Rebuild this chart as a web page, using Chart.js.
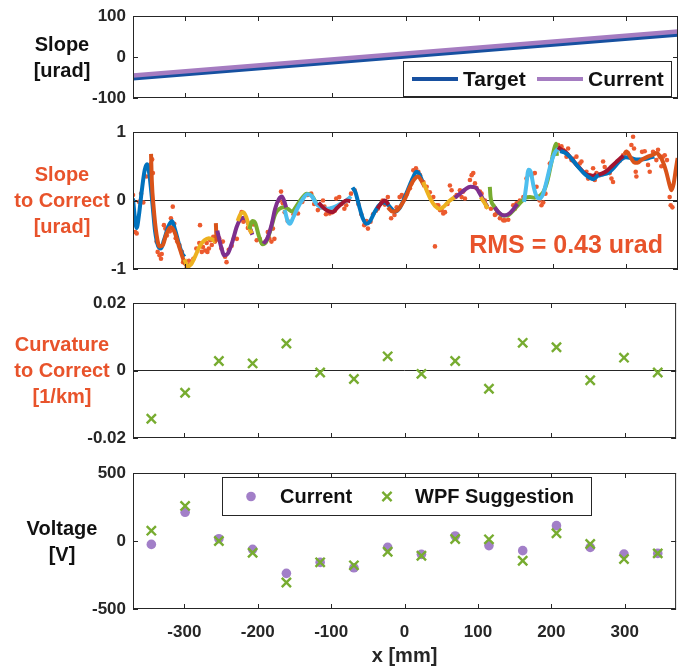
<!DOCTYPE html>
<html>
<head>
<meta charset="utf-8">
<script src="https://cdn.jsdelivr.net/npm/chart.js@4.4.0/dist/chart.umd.min.js"></script>
<style>
  html, body { margin: 0; padding: 0; background: #fff; }
  #wrap { position: relative; width: 685px; height: 666px; }
  #wrap canvas { position: absolute; left: 0; }
</style>
</head>
<body>
<div id="wrap">
  <canvas id="slopeChart" width="685" height="110" style="top:0px"></canvas>
  <canvas id="residChart" width="685" height="170" style="top:110px"></canvas>
  <canvas id="curvChart" width="685" height="170" style="top:280px"></canvas>
  <canvas id="voltChart" width="685" height="216" style="top:450px"></canvas>
</div>
<script>
// ---- data ----
const xTicks = [-300, -200, -100, 0, 100, 200, 300];
const slopeTicks = [-100, 0, 100];
const residTicks = [-1, 0, 1];
const curvTicks = [-0.02, 0, 0.02];
const voltTicks = [-500, 0, 500];

// actuator positions [mm]
const actuatorX = [-345, -299, -253, -207, -161, -115, -69, -23, 23, 69, 115, 161, 207, 253, 299, 345];
const curvatureToCorrect = [-0.0143, -0.0066, 0.0028, 0.0021, 0.0080, -0.0006, -0.0025, 0.0042,
  -0.0010, 0.0028, -0.0054, 0.0082, 0.0069, -0.0029, 0.0038, -0.0006];
const voltageCurrent = [-25, 211, 17, -61, -238, -157, -197, -47, -98, 37, -34, -71, 113, -47, -96, -91];
const voltageWPF = [76, 258, 0, -86, -305, -157, -179, -79, -108, 15, 12, -145, 57, -22, -133, -91];

// slope [urad]
const targetSlope = [[-370, -52], [370, 55]];
const currentSlope = [[-370, -45], [370, 62]];

// measured slope residual [urad]
const slopeMeas = [
  [-370, 0.08], [-367, -0.46], [-365, -0.48], [-362, -0.02], [-359, 0.1], [-356, -0.03], [-352, 0.35],
  [-349, 0.49], [-346, 0.53], [-344, 0.6], [-343, 0.4], [-338, -0.6], [-336.5, -0.75], [-334, -0.8],
  [-332, -0.85], [-331, -0.78], [-328, -0.36], [-326, -0.41], [-324, -0.51], [-320, -0.45],
  [-318.5, -0.26], [-316, -0.09], [-314, -0.34], [-312, -0.55], [-310, -0.6], [-307, -0.65],
  [-303.6, -0.75], [-302, -0.9], [-299, -0.92], [-297, -0.98], [-294, -0.88], [-288, -0.85],
  [-284, -0.7], [-280, -0.62], [-279, -0.36], [-276.6, -0.75], [-275, -0.68], [-272, -0.73],
  [-270, -0.62], [-269, -0.75], [-267, -0.7], [-265, -0.58], [-263, -0.65], [-261, -0.53],
  [-258.6, -0.6], [-253, -0.55], [-250, -0.7], [-248, -0.6], [-245, -0.82], [-243, -0.9],
  [-240, -0.72], [-236, -0.66], [-233, -0.55], [-229, -0.56], [-225, -0.29], [-222.5, -0.17],
  [-220, -0.31], [-214, -0.4], [-210, -0.45], [-206, -0.35], [-202, -0.58], [-198, -0.56],
  [-195, -0.62], [-190, -0.6], [-187, -0.46], [-185, -0.55], [-182, -0.6], [-180, -0.41],
  [-178, -0.56], [-171, 0.0], [-169, 0.13], [-166.5, -0.04], [-164, -0.17], [-160, -0.3],
  [-152, -0.2], [-146, -0.19], [-140, -0.02], [-133, 0.08], [-128, 0.1], [-124, -0.05],
  [-119, -0.14], [-115, -0.1], [-112, 0.0], [-110, -0.09], [-108, -0.2], [-105, -0.14],
  [-103, -0.19], [-101, -0.12], [-99, -0.17], [-96, -0.15], [-94, 0.03], [-90, 0.05],
  [-87, -0.05], [-83, -0.12], [-80.5, -0.07], [-77, 0.02], [-74, 0.1], [-69, 0.15],
  [-64, -0.05], [-60, -0.2], [-56, -0.36], [-53, -0.3], [-51, -0.41], [-47.5, -0.31],
  [-44, -0.2], [-40, -0.15], [-37.6, -0.12], [-33, -0.04], [-31, 0.0], [-28, -0.06],
  [-24, 0.05], [-19.5, -0.26], [-15, -0.21], [-12, -0.1], [-8, 0.05], [-5, 0.08],
  [-3, 0.05], [2, 0.1], [6, 0.18], [8, 0.25], [10.6, 0.44], [14.2, 0.47], [17.4, 0.42],
  [19.7, 0.37], [24.2, 0.27], [28.7, 0.2], [33, 0.12], [37.7, 0.05], [40, -0.67],
  [42.3, -0.07], [44.5, -0.07], [46.8, -0.14], [49, -0.14], [51.3, -0.19], [53.6, -0.17],
  [57, -0.05], [60.3, 0.22], [62.6, 0.15], [67.1, 0.05], [69.4, 0.08], [73.9, 0.15],
  [76.2, 0.05], [78.4, 0.13], [80.7, 0.03], [87.5, 0.3], [89.8, 0.37], [92, 0.4],
  [94.3, 0.25], [96.5, 0.18], [101, 0.13], [103.3, 0.1], [107.8, 0.0], [110, -0.09],
  [116, -0.12], [121.4, -0.21], [123.7, -0.19], [128.2, -0.26], [132.7, -0.29], [135, -0.29],
  [139.5, -0.28], [146.3, -0.07], [148.5, -0.12], [150.8, -0.04], [153, -0.04], [155.3, 0.0],
  [160, 0.05], [164.3, 0.32], [171, 0.37], [175.6, 0.4], [177.9, 0.2], [182, 0.0],
  [184.6, -0.07], [187, -0.03], [190, 0.1], [196, 0.54], [200.5, 0.66], [207.3, 0.81],
  [211.8, 0.79], [214, 0.74], [216.3, 0.72], [218.6, 0.64], [220.8, 0.76], [225.4, 0.59],
  [227.6, 0.61], [232.1, 0.64], [236.7, 0.54], [238.9, 0.57], [245.7, 0.42], [248, 0.32],
  [250.2, 0.37], [252.5, 0.35], [254.7, 0.47], [257, 0.3], [259.3, 0.4], [263.8, 0.37],
  [268.3, 0.57], [270.5, 0.49], [272.8, 0.42], [277.3, 0.4], [279.6, 0.32], [281.8, 0.27],
  [290.9, 0.58], [295.4, 0.66], [300, 0.71], [302.2, 0.69], [306.7, 0.81], [309, 0.93],
  [310.3, 0.76], [312.6, 0.42], [313.5, 0.35], [318, 0.59], [321.2, 0.71], [324.8, 0.72],
  [329.3, 0.52], [331.6, 0.42], [336.1, 0.71], [338.4, 0.69], [340.6, 0.59], [342.9, 0.74],
  [345.2, 0.64], [347.4, 0.5], [349.7, 0.64], [352, 0.66], [355, 0.59], [358.7, 0.05],
  [360.1, -0.07], [362.4, -0.1]
];

// local fits per actuator window
const fitBlue1 = [[-370, 0.03], [-367, -0.3], [-365, -0.4], [-362, -0.22], [-358, 0.15], [-354, 0.45],
  [-351, 0.53], [-348, 0.4], [-344, 0.0], [-340, -0.45], [-336, -0.66], [-332, -0.7], [-328, -0.58],
  [-322, -0.38], [-317, -0.3], [-313, -0.42], [-308, -0.62], [-303, -0.78], [-300, -0.82]];
const fitOrange1 = [[-345.5, 0.68], [-344.5, 0.3], [-342, -0.1], [-338, -0.5], [-334, -0.67], [-330, -0.66],
  [-325, -0.5], [-319, -0.39], [-314, -0.45], [-308, -0.65], [-302, -0.85], [-297, -0.95], [-293, -0.94]];
const fitYellow1 = [[-300, -0.86], [-296, -0.96], [-291, -0.93], [-285, -0.8], [-279, -0.66], [-273, -0.58],
  [-267, -0.55], [-262, -0.57], [-258, -0.61]];
const fitOrange2 = [[-257.5, -0.33], [-256.5, -0.6]];
const fitPurple1 = [[-255.5, -0.44], [-251, -0.65], [-246, -0.8], [-241, -0.77], [-235, -0.6], [-229, -0.38],
  [-223, -0.26], [-218, -0.25], [-213, -0.35], [-208, -0.5]];
const fitYellow2 = [[-228, -0.3], [-224, -0.2], [-220, -0.17], [-216, -0.25], [-212, -0.4], [-209, -0.48]];
const fitGreen1 = [[-212, -0.42], [-208, -0.3], [-204, -0.33], [-199, -0.52], [-194, -0.64], [-189, -0.6],
  [-183, -0.42], [-177, -0.2], [-171, -0.12], [-165, -0.1], [-160, -0.12], [-154, -0.16], [-148, -0.08],
  [-141, 0.03], [-134, 0.1], [-127, 0.07], [-121, -0.05]];
const fitPurple2 = [[-193, -0.63], [-188, -0.56], [-182, -0.36], [-177, -0.12], [-172, 0.02], [-168, 0.06],
  [-165, 0.0], [-162, -0.1]];
const fitCyan1 = [[-164, -0.14], [-160, -0.3], [-157, -0.34], [-153, -0.26], [-147, -0.12], [-140, 0.01],
  [-133, 0.09], [-127, 0.06], [-121, -0.05], [-114, -0.1], [-106, -0.12], [-98, -0.1], [-90, -0.06],
  [-83, -0.02], [-78, 0.02], [-74, 0.06]];
const fitRed1 = [[-118, -0.03], [-112, -0.1], [-106, -0.15], [-99, -0.17], [-93, -0.11], [-86, -0.04],
  [-80, 0.0], [-75, -0.01]];
const fitBlue2 = [[-72, 0.19], [-68, 0.12], [-63, -0.08], [-58, -0.26], [-53, -0.34], [-48, -0.3],
  [-42, -0.17], [-36, -0.07], [-30, -0.03], [-25, -0.05], [-19, -0.12], [-14, -0.16], [-8, -0.11],
  [-2, 0.02], [4, 0.18], [10, 0.33], [15, 0.42], [19, 0.38], [23, 0.28]];
const fitRed2 = [[-38, -0.12], [-33, -0.04], [-28, 0.0], [-23, -0.06]];
const fitOrange3 = [[-24, -0.1], [-18, -0.16], [-12, -0.15], [-6, -0.07], [0, 0.04], [6, 0.2], [12, 0.31],
  [17, 0.35], [21, 0.3], [26, 0.2]];
const fitYellow3 = [[24, 0.27], [29, 0.14], [34, 0.02], [40, -0.08], [46, -0.12], [52, -0.09], [58, -0.02],
  [64, 0.03], [70, 0.06]];
const fitPurple3 = [[67, 0.04], [74, 0.1], [81, 0.16], [88, 0.2], [95, 0.19], [101, 0.1], [106, 0.0], [111, -0.09]];
const fitYellow4 = [[102, 0.05], [107, -0.03], [112, -0.12]];
const fitGreen2 = [[114.5, 0.2], [115.5, 0.05], [120, -0.08], [126, -0.17], [132, -0.22], [138, -0.22],
  [145, -0.16], [151, -0.09], [157, -0.02], [163, 0.04], [169, 0.05], [175, 0.04], [181, 0.06],
  [187, 0.12], [193, 0.3], [198, 0.55], [202, 0.76], [204.5, 0.83], [205.5, 0.65]];
const fitPurple4 = [[121, -0.1], [127, -0.18], [134, -0.22], [141, -0.19], [147, -0.12], [152, -0.05]];
const fitCyan2 = [[161, -0.02], [164, 0.22], [167, 0.45], [170, 0.42], [174, 0.2], [178, 0.06], [182, 0.03],
  [187, 0.1], [192, 0.3], [197, 0.52], [202, 0.68], [207, 0.75], [211, 0.74]];
const fitRed3 = [[207, 0.78], [212, 0.74], [218, 0.7], [224, 0.63], [230, 0.55], [236, 0.48], [242, 0.41],
  [248, 0.37], [254, 0.36], [259, 0.38]];
const fitBlue3 = [[210, 0.72], [216, 0.7], [223, 0.64], [230, 0.55], [237, 0.46], [243, 0.39], [249, 0.34],
  [255, 0.31], [261, 0.36], [268, 0.38], [275, 0.4], [281, 0.46], [287, 0.53], [293, 0.6], [299, 0.63],
  [306, 0.62], [313, 0.6], [320, 0.6], [327, 0.61], [333, 0.63], [338, 0.64]];
const fitRed4 = [[262, 0.38], [268, 0.4], [274, 0.44], [280, 0.5], [286, 0.56], [292, 0.62], [296, 0.65]];
const fitOrange4 = [[297, 0.68], [300, 0.71], [305, 0.64], [310, 0.56], [315, 0.55], [320, 0.59], [327, 0.63],
  [334, 0.66], [341, 0.69], [346, 0.64], [350, 0.55], [354, 0.42], [358, 0.25], [361, 0.15], [364, 0.24],
  [367, 0.45], [369.5, 0.62]];

// ---- styling ----
const FONT = '"Liberation Sans", Arial, Helvetica, sans-serif';
const AXIS = '#262626';
const LABEL_RED = '#e8532b';
const C = {
  blue: '#0072bd', orange: '#d95319', yellow: '#edb120', purple: '#7e2f8e',
  green: '#77ac30', cyan: '#4dbeee', red: '#a2142f'
};
const fitSegments = [
  [fitBlue1, C.blue], [fitOrange1, C.orange], [fitYellow1, C.yellow], [fitOrange2, C.orange],
  [fitPurple1, C.purple], [fitYellow2, C.yellow], [fitGreen1, C.green], [fitPurple2, C.purple],
  [fitCyan1, C.cyan], [fitRed1, C.red], [fitBlue2, C.blue], [fitRed2, C.red], [fitOrange3, C.orange],
  [fitYellow3, C.yellow], [fitPurple3, C.purple], [fitYellow4, C.yellow], [fitGreen2, C.green],
  [fitPurple4, C.purple], [fitCyan2, C.cyan], [fitRed3, C.red], [fitBlue3, C.blue], [fitRed4, C.red],
  [fitOrange4, C.orange]
];

const pts = arr => arr.map(p => ({ x: p[0], y: p[1] }));
const zip = (xs, ys) => xs.map((x, i) => ({ x: x, y: ys[i] }));

// frame, inward ticks, multi-line y label and extras
function decor(label, labelColor, yTicks, extra) {
  return {
    id: 'decor',
    afterDraw(chart) {
      const { ctx, chartArea: a, scales } = chart;
      ctx.save();
      ctx.strokeStyle = AXIS;
      ctx.lineWidth = 1;
      ctx.strokeRect(a.left + 0.5, a.top + 0.5, a.width - 1, a.height - 1);
      const tl = 5;
      ctx.beginPath();
      xTicks.forEach(v => {
        const px = Math.round(scales.x.getPixelForValue(v)) + 0.5;
        ctx.moveTo(px, a.top); ctx.lineTo(px, a.top + tl);
        ctx.moveTo(px, a.bottom); ctx.lineTo(px, a.bottom - tl);
      });
      yTicks.forEach(v => {
        const py = Math.round(scales.y.getPixelForValue(v)) + 0.5;
        ctx.moveTo(a.left, py); ctx.lineTo(a.left + tl, py);
        ctx.moveTo(a.right, py); ctx.lineTo(a.right - tl, py);
      });
      ctx.stroke();

      ctx.fillStyle = labelColor;
      ctx.font = 'bold 20px ' + FONT;
      ctx.textAlign = 'center';
      ctx.textBaseline = 'middle';
      const cy = (a.top + a.bottom) / 2 + 1;
      label.forEach((t, i) => ctx.fillText(t, 62, cy + (i - (label.length - 1) / 2) * 26));
      if (extra) extra(ctx, a);
      ctx.restore();
    }
  };
}

function makePanel(id, opts) {
  return new Chart(document.getElementById(id), {
    type: 'scatter',
    data: { datasets: opts.datasets },
    options: {
      responsive: false,
      animation: false,
      devicePixelRatio: 1,
      events: [],
      layout: { padding: { top: opts.padTop, bottom: opts.padBottom, left: 0, right: 7 } },
      plugins: { legend: { display: false }, tooltip: { enabled: false } },
      scales: {
        x: {
          type: 'linear', min: -370, max: 370,
          display: !!opts.showX,
          afterBuildTicks: s => { s.ticks = xTicks.map(v => ({ value: v })); },
          afterFit: s => { if (opts.showX) s.height = 57; },
          grid: { display: false, drawTicks: false },
          border: { display: false },
          ticks: { padding: 13, color: AXIS, font: { family: FONT, size: 17, weight: 'bold' }, callback: v => String(v) },
          title: {
            display: !!opts.showX, text: 'x [mm]', color: AXIS,
            font: { family: FONT, size: 20, weight: 'bold', lineHeight: 1 }, padding: { top: 0, bottom: 0 }
          }
        },
        y: {
          type: 'linear', min: opts.yTicks[0], max: opts.yTicks[opts.yTicks.length - 1],
          afterBuildTicks: s => { s.ticks = opts.yTicks.map(v => ({ value: v })); },
          // fixed axis width; tick labels may spill into the layout padding
          afterFit: s => { s.width = 133; s.paddingTop = 0; s.paddingBottom = 0; },
          grid: {
            drawTicks: false,
            color: c => (opts.zeroLine && c.tick && c.tick.value === 0) ? AXIS : 'rgba(0,0,0,0)'
          },
          border: { display: false },
          ticks: { padding: 7, color: AXIS, font: { family: FONT, size: 17, weight: 'bold' }, callback: v => String(v) }
        }
      }
    },
    plugins: [decor(opts.label, opts.labelColor, opts.yTicks, opts.extra)]
  });
}

// panel 1: slope
makePanel('slopeChart', {
  padTop: 16, padBottom: 12, yTicks: slopeTicks,
  label: ['Slope', '[urad]'], labelColor: '#111',
  datasets: [
    { data: pts(currentSlope), showLine: true, borderColor: '#a57cc1', borderWidth: 4.5, pointRadius: 0, order: 0 },
    { data: pts(targetSlope), showLine: true, borderColor: '#1750a0', borderWidth: 4.5, pointRadius: 0, order: 1 }
  ],
  extra(ctx, a) {
    const top = a.top + 45, left = 403, w = 269, h = 36, cy = top + h / 2;
    ctx.fillStyle = '#fff';
    ctx.fillRect(left, top, w, h);
    ctx.strokeStyle = AXIS;
    ctx.lineWidth = 1;
    ctx.strokeRect(left + 0.5, top + 0.5, w - 1, h - 1);
    ctx.lineWidth = 4;
    ctx.strokeStyle = '#1750a0';
    ctx.beginPath(); ctx.moveTo(412, cy); ctx.lineTo(458, cy); ctx.stroke();
    ctx.strokeStyle = '#a57cc1';
    ctx.beginPath(); ctx.moveTo(537, cy); ctx.lineTo(583, cy); ctx.stroke();
    ctx.fillStyle = '#111';
    ctx.font = 'bold 21px ' + FONT;
    ctx.textAlign = 'left';
    ctx.textBaseline = 'middle';
    ctx.fillText('Target', 463, cy + 1);
    ctx.fillText('Current', 588, cy + 1);
  }
});

// panel 2: slope residual with local fits
const residSets = fitSegments.map((s, i) => ({
  data: pts(s[0]), showLine: true, borderColor: s[1], borderWidth: 4,
  pointRadius: 0, cubicInterpolationMode: 'monotone', order: 50 - i
}));
residSets.push({ data: pts(slopeMeas), backgroundColor: '#ec5a2e', borderWidth: 0, pointRadius: 2.3, order: 100 });
makePanel('residChart', {
  padTop: 22, padBottom: 11, yTicks: residTicks, zeroLine: true,
  label: ['Slope', 'to Correct', '[urad]'], labelColor: LABEL_RED,
  datasets: residSets,
  extra(ctx, a) {
    ctx.fillStyle = LABEL_RED;
    ctx.font = 'bold 25px ' + FONT;
    ctx.textAlign = 'right';
    ctx.textBaseline = 'middle';
    ctx.fillText('RMS = 0.43 urad', 663, a.top + 114);
  }
});

// panel 3: curvature to correct
makePanel('curvChart', {
  padTop: 23, padBottom: 12, yTicks: curvTicks, zeroLine: true,
  label: ['Curvature', 'to Correct', '[1/km]'], labelColor: LABEL_RED,
  datasets: [
    { data: zip(actuatorX, curvatureToCorrect), pointStyle: 'crossRot', pointRadius: 6.5,
      borderColor: C.green, borderWidth: 2.4, backgroundColor: C.green }
  ]
});

// panel 4: actuator voltages
makePanel('voltChart', {
  padTop: 23, padBottom: 0, yTicks: voltTicks, showX: true,
  label: ['Voltage', '[V]'], labelColor: '#111',
  datasets: [
    { data: zip(actuatorX, voltageWPF), pointStyle: 'crossRot', pointRadius: 6.5,
      borderColor: C.green, borderWidth: 2.4, backgroundColor: C.green, order: 0 },
    { data: zip(actuatorX, voltageCurrent), pointStyle: 'circle', pointRadius: 4.8,
      backgroundColor: '#a27fc8', borderWidth: 0, order: 1 }
  ],
  extra(ctx, a) {
    const top = a.top + 4, left = 222, w = 370, h = 39, cy = top + h / 2;
    ctx.fillStyle = '#fff';
    ctx.fillRect(left, top, w, h);
    ctx.strokeStyle = AXIS;
    ctx.lineWidth = 1;
    ctx.strokeRect(left + 0.5, top + 0.5, w - 1, h - 1);
    ctx.fillStyle = '#a27fc8';
    ctx.beginPath(); ctx.arc(251, cy, 4.8, 0, Math.PI * 2); ctx.fill();
    ctx.strokeStyle = C.green;
    ctx.lineWidth = 2.4;
    const r = 4.6;
    ctx.beginPath();
    ctx.moveTo(387 - r, cy - r); ctx.lineTo(387 + r, cy + r);
    ctx.moveTo(387 - r, cy + r); ctx.lineTo(387 + r, cy - r);
    ctx.stroke();
    ctx.fillStyle = '#111';
    ctx.font = 'bold 20px ' + FONT;
    ctx.textAlign = 'left';
    ctx.textBaseline = 'middle';
    ctx.fillText('Current', 280, cy + 1);
    ctx.fillText('WPF Suggestion', 415, cy + 1);
  }
});
</script>
</body>
</html>
